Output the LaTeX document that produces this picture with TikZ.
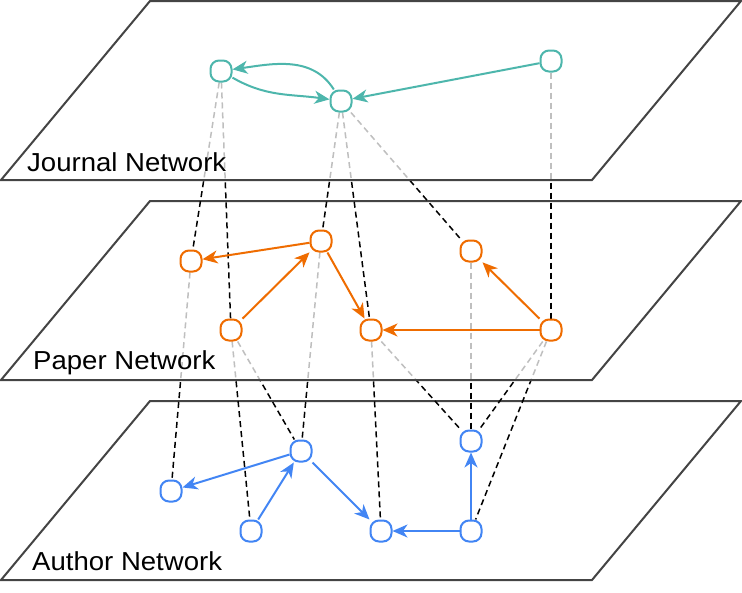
\documentclass[tikz,border=0pt]{standalone}
\usepackage{fontspec}
\newfontfamily\lblfont[FakeStretch=1.06]{Liberation Sans}
\usetikzlibrary{arrows.meta}
\pgfdeclarelayer{lzero}
\pgfdeclarelayer{lone}
\pgfdeclarelayer{ltwo}
\pgfdeclarelayer{lthree}
\pgfdeclarelayer{lfour}
\pgfsetlayers{lzero,lone,ltwo,lthree,lfour,main}
\definecolor{jcol}{HTML}{4DB6AC}
\definecolor{pcol}{HTML}{EF6C00}
\definecolor{acol}{HTML}{4285F4}
\definecolor{planecol}{HTML}{444444}
\begin{document}
\begin{tikzpicture}[x=1pt,y=-1pt,
  plane/.style={draw=planecol, line width=2pt, fill=white, fill opacity=0.75, draw opacity=1},
  vert/.style={draw, rounded corners=8.5pt, minimum width=21pt, minimum height=21pt, inner sep=0pt, line width=2pt, fill=white},
  jn/.style={vert, draw=jcol},
  pn/.style={vert, draw=pcol},
  an/.style={vert, draw=acol},
  edge/.style={line width=2pt, -{Stealth[length=15pt,width=13pt,inset=4.5pt]}},
  link/.style={black, dash pattern=on 6pt off 4pt, line width=1.5pt},
  lbl/.style={anchor=base west, inner sep=0pt, font=\lblfont\fontsize{26}{30}\selectfont}]
\useasboundingbox (0,0) rectangle (742,592);

% planes
\begin{pgfonlayer}{lzero}
  \draw[plane] (1,580) -- (150,401) -- (741,401) -- (592,580) -- cycle;
\end{pgfonlayer}
\begin{pgfonlayer}{ltwo}
  \draw[plane] (1,380) -- (150,201) -- (741,201) -- (592,380) -- cycle;
\end{pgfonlayer}
\begin{pgfonlayer}{lfour}
  \draw[plane] (1,180) -- (150,1) -- (741,1) -- (592,180) -- cycle;
\end{pgfonlayer}

% labels
\node[lbl] (tj) at (27,171) {Journal Network};
\node[lbl] (tp) at (33,369) {Paper Network};
\node[lbl] (ta) at (32,570) {Author Network};

% journal nodes
\node[jn] (J1) at (221,71) {};
\node[jn] (J2) at (341,101) {};
\node[jn] (J3) at (551,61) {};
% paper nodes
\node[pn] (P1) at (191,261) {};
\node[pn] (P2) at (321,241) {};
\node[pn] (P3) at (231,330) {};
\node[pn] (P4) at (371,330) {};
\node[pn] (P5) at (471,251) {};
\node[pn] (P6) at (551,330) {};
% author nodes
\node[an] (A1) at (171,491) {};
\node[an] (A2) at (301,451) {};
\node[an] (A3) at (251,531) {};
\node[an] (A4) at (381,531) {};
\node[an] (A5) at (471,441) {};
\node[an] (A6) at (471,531) {};

% inter-layer links: paper -> author (under paper plane)
\begin{pgfonlayer}{lone}
  \draw[link] (P1) -- (A1);
  \draw[link] (P2) -- (A2);
  \draw[link] (P3) -- (A2);
  \draw[link] (P3) -- (A3);
  \draw[link] (P4) -- (A4);
  \draw[link] (P4) -- (A5);
  \draw[link] (P5) -- (A5);
  \draw[link] (P6) -- (A5);
  \draw[link] (P6) -- (A6);
\end{pgfonlayer}
% inter-layer links: journal -> paper (under journal plane)
\begin{pgfonlayer}{lthree}
  \draw[link] (J1) -- (P1);
  \draw[link] (J1) -- (P3);
  \draw[link] (J2) -- (P2);
  \draw[link] (J2) -- (P4);
  \draw[link] (J2) -- (P5);
  \draw[link] (J3) -- (P6);
\end{pgfonlayer}

% journal edges
\draw[edge, jcol] (J1) to[out=-30, in=172] (J2);
\draw[edge, jcol] (J2) to[out=122, in=8] (J1);
\draw[edge, jcol] (J3) -- (J2);
% paper edges
\draw[edge, pcol] (P2) -- (P1);
\draw[edge, pcol] (P3) -- (P2);
\draw[edge, pcol] (P2) -- (P4);
\draw[edge, pcol] (P6) -- (P4);
\draw[edge, pcol] (P6) -- (P5);
% author edges
\draw[edge, acol] (A2) -- (A1);
\draw[edge, acol] (A3) -- (A2);
\draw[edge, acol] (A2) -- (A4);
\draw[edge, acol] (A6) -- (A4);
\draw[edge, acol] (A6) -- (A5);
\end{tikzpicture}
\end{document}
